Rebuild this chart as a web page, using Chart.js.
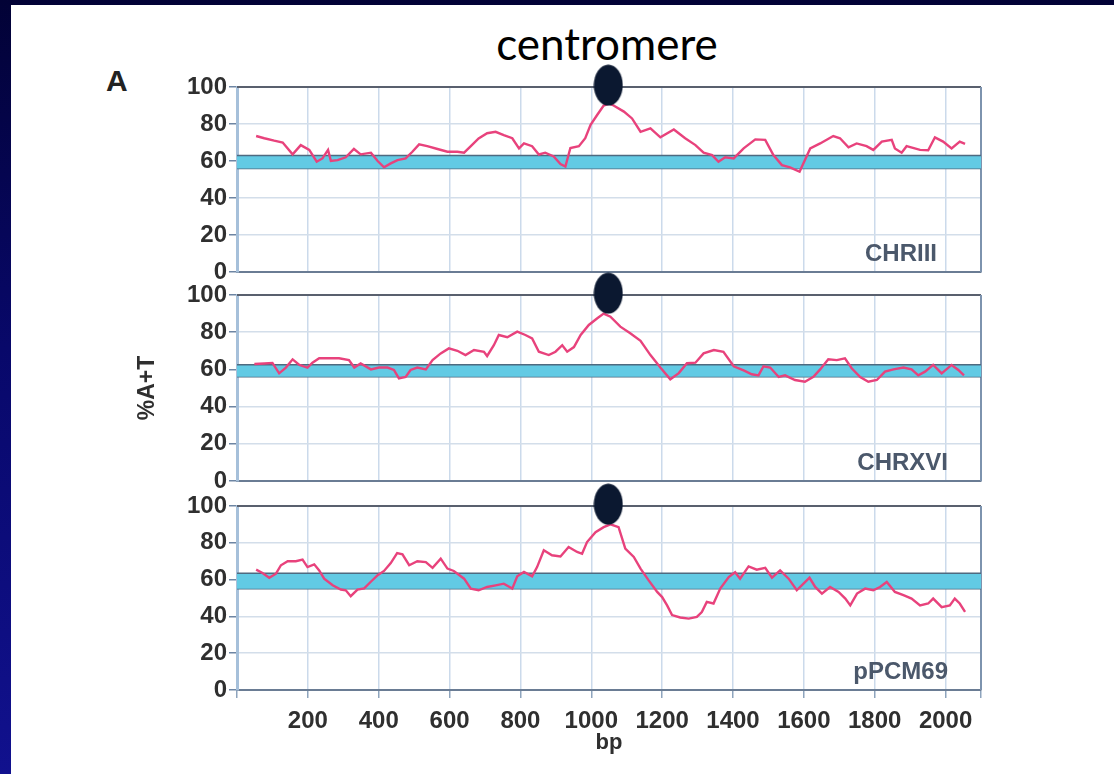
<!DOCTYPE html>
<html>
<head>
<meta charset="utf-8">
<script src="https://cdn.jsdelivr.net/npm/chart.js@4"></script>
<style>
html, body { margin: 0; padding: 0; width: 1114px; height: 774px; overflow: hidden;
  background: linear-gradient(180deg, #020236 0%, #08086a 45%, #11118e 100%); }
#slide { position: absolute; left: 11px; top: 5px; width: 1103px; height: 769px; background: #fff; }
.panel { position: absolute; left: 100px; width: 920px; }
#title { position: absolute; left: 407px; width: 400px; top: 21px; text-align: center;
  font: 44px Lato, "Open Sans", sans-serif; line-height: 44px; color: #000; }
#letter { position: absolute; left: 106px; top: 64px; font: bold 30px "Liberation Sans", Arial, sans-serif; color: #222; }
</style>
</head>
<body>
<div id="slide"></div>
<div id="title">centromere</div>
<div id="letter">A</div>
<canvas id="p1" class="panel" style="top:50px;height:240px" width="920" height="240"></canvas>
<canvas id="p2" class="panel" style="top:265px;height:235px" width="920" height="235"></canvas>
<canvas id="p3" class="panel" style="top:475px;height:295px" width="920" height="295"></canvas>
<script>
// x axis labels (bp) and y ticks
const xTickLabels = [200, 400, 600, 800, 1000, 1200, 1400, 1600, 1800, 2000];
const xMax = 2100;
const yTickStep = 20;
const centromereBp = 1048;
const centromereY = 101;

// CHRIII
const chr3Bp = [54, 77, 105, 129, 157, 180, 204, 225, 241, 257,
  265, 284, 307, 330, 349, 378, 397, 415, 434, 453,
  476, 495, 514, 537, 566, 594, 622, 641, 660, 682,
  706, 730, 753, 777, 796, 810, 833, 852, 870, 894,
  913, 927, 941, 965, 983, 998, 1017, 1035, 1050, 1063,
  1092, 1115, 1139, 1167, 1195, 1233, 1265, 1294, 1317, 1341,
  1359, 1378, 1402, 1430, 1463, 1491, 1514, 1538, 1561, 1588,
  1603, 1618, 1646, 1683, 1702, 1726, 1749, 1777, 1796, 1820,
  1848, 1857, 1876, 1890, 1928, 1951, 1970, 1993, 2017, 2040, 2055];
const chr3AT = [73.5, 72.3, 71, 70, 63.6, 68.6, 66, 59.6, 61.4, 66,
  60, 60.5, 62, 66.5, 63.6, 64.5, 60, 56.6, 58.7, 60.5,
  61.4, 65, 69, 68, 66.5, 65, 65, 64.5, 68, 72.2,
  75, 75.8, 74, 72.3, 66.8, 69.5, 68, 63.5, 64.5, 62.5,
  58.4, 57, 67, 68, 72.3, 79.5, 85, 90, 91, 90,
  86.7, 83, 75.8, 77.7, 72.8, 77, 72.3, 68.6, 64.5, 63.2,
  59.6, 62, 61.4, 66.8, 71.7, 71.4, 63.2, 57.8, 56.6, 54.2,
  60.5, 66.8, 69.5, 73.5, 72.3, 67.4, 69.5, 68, 66, 70.5,
  71.4, 66.8, 64.5, 68, 66, 65.8, 72.8, 70.5, 66.8, 70.5, 69.3];

// CHRXVI
const chr16Bp = [49, 77, 100, 119, 138, 157, 176, 199, 213, 232,
  260, 288, 316, 331, 349, 378, 401, 425, 443, 457,
  476, 490, 509, 533, 552, 575, 598, 622, 645, 669,
  697, 706, 725, 739, 763, 791, 814, 833, 852, 880,
  899, 918, 932, 951, 970, 993, 1017, 1035, 1054, 1082,
  1110, 1139, 1167, 1195, 1223, 1247, 1270, 1294, 1317, 1346,
  1373, 1402, 1430, 1453, 1472, 1486, 1505, 1529, 1547, 1575,
  1603, 1627, 1646, 1669, 1693, 1716, 1735, 1759, 1782, 1806,
  1829, 1853, 1881, 1904, 1923, 1942, 1965, 1989, 2017, 2036, 2052];
const chr16AT = [62.9, 63.2, 63.5, 57.9, 61, 65.4, 62.4, 61, 63.6, 66,
  66, 66, 65, 61, 63.2, 60, 61, 61, 59.7, 55.2,
  56, 59.7, 61, 60, 65, 68.6, 71.3, 70, 67.7, 70.4,
  69.5, 67.2, 73, 78.5, 77.3, 80.3, 78.5, 76.7, 69.5, 67.7,
  69.5, 73, 69.5, 72, 78.5, 83.9, 87.5, 90, 88.3, 83,
  79.4, 75.4, 67.7, 61, 54.7, 58, 63.3, 63.6, 68.6, 70.4,
  69.5, 61.7, 59.5, 57.4, 56.8, 61.7, 61, 55.9, 56.8, 54.3,
  53.4, 56, 60, 65.4, 65, 66, 60.6, 55.9, 53.4, 54.3,
  58.8, 60, 61, 60, 56.8, 58.8, 62.4, 57.9, 62.4, 59.7, 56.8];

// pPCM69
const ppcmBp = [54, 72, 91, 110, 124, 143, 166, 185, 199, 218,
  232, 246, 270, 293, 307, 321, 340, 359, 377, 397,
  415, 434, 452, 467, 486, 509, 533, 552, 575, 594,
  612, 641, 660, 682, 706, 730, 753, 777, 791, 810,
  833, 847, 866, 889, 913, 936, 960, 974, 988, 1012,
  1035, 1054, 1077, 1096, 1120, 1139, 1162, 1186, 1200, 1214,
  1228, 1251, 1275, 1298, 1312, 1326, 1345, 1364, 1388, 1406,
  1420, 1444, 1467, 1491, 1510, 1533, 1557, 1580, 1599, 1616,
  1632, 1651, 1674, 1698, 1717, 1731, 1750, 1773, 1796, 1815,
  1834, 1857, 1881, 1904, 1928, 1951, 1965, 1989, 2012, 2026, 2040, 2055];
const ppcmAT = [65.4, 63.6, 61, 63.2, 67.8, 70, 70, 70.9, 66.8, 68.3,
  65, 60.5, 56.9, 54.6, 54.2, 51, 54.6, 55.2, 58.7, 62.4,
  64.7, 69, 74.4, 73.7, 67.8, 70, 69.5, 66.4, 71.4, 66,
  64.7, 60.5, 55.1, 54.2, 56, 56.9, 57.8, 55.1, 61.8, 64.2,
  61.8, 66.8, 75.9, 73.2, 72.6, 77.7, 75, 74, 80.4, 85.8,
  88.5, 90, 88.5, 76.8, 72.3, 66, 59.6, 53.3, 50.5, 46,
  40.7, 39.4, 38.8, 39.7, 42.4, 47.9, 47, 55.1, 61.4, 64,
  60.5, 67.2, 65.4, 66.4, 61, 65, 60.5, 54.2, 57.8, 61,
  56, 52.4, 56, 53.3, 49.7, 46, 52.4, 55.1, 54.2, 56,
  58.7, 53.3, 51.5, 49.7, 46, 47, 49.7, 45, 46, 49.7, 47, 42.4];

// genome average band (low, high) per panel
const bandChr3 = [56, 63];
const bandChr16 = [56, 62.5];
const bandPpcm = [55, 63.5];

const tickFont = { family: '"Liberation Sans", Arial, sans-serif', size: 24, weight: 'bold' };

// ellipse marker for the centromere
function ellipseMarker() {
    const c = document.createElement('canvas');
    c.width = 30; c.height = 42;
    const g = c.getContext('2d');
    g.fillStyle = '#0b1830';
    g.beginPath();
    g.ellipse(15, 21, 14.5, 20.5, 0, 0, Math.PI * 2);
    g.fill();
    return c;
}
const marker = ellipseMarker();

// top + right frame lines, and panel name
const framePlugin = {
    id: 'frame',
    beforeDatasetsDraw(chart) {
        const a = chart.chartArea, g = chart.ctx;
        g.save();
        g.lineWidth = 2;
        g.strokeStyle = '#59606e';
        g.beginPath(); g.moveTo(a.left, a.top); g.lineTo(a.right, a.top); g.stroke();
        g.strokeStyle = '#7d93ae';
        g.beginPath(); g.moveTo(a.right, a.top); g.lineTo(a.right, a.bottom); g.stroke();
        g.restore();
    },
    afterDraw(chart, args, opts) {
        const a = chart.chartArea, g = chart.ctx;
        g.save();
        g.font = 'bold 24px "Liberation Sans", Arial, sans-serif';
        g.fillStyle = '#4b586b';
        g.textAlign = 'right';
        g.textBaseline = 'alphabetic';
        g.fillText(opts.name, a.right - opts.dx, a.bottom - 11);
        g.restore();
    }
};

function makePanel(id, name, bp, at, band, cfg) {
    const points = bp.map((x, i) => ({ x: x, y: at[i] }));
    return new Chart(document.getElementById(id), {
        type: 'line',
        data: {
            datasets: [
                {
                    type: 'scatter',
                    data: [{ x: centromereBp, y: centromereY }],
                    pointStyle: marker,
                    pointRadius: 15,
                    clip: false,
                    order: 0
                },
                {
                    data: points,
                    borderColor: '#e8427c',
                    borderWidth: 2.4,
                    pointRadius: 0,
                    tension: 0,
                    order: 1
                },
                {
                    data: [{ x: 0, y: band[1] }, { x: xMax, y: band[1] }],
                    borderColor: '#4e6a80',
                    borderWidth: 1.5,
                    backgroundColor: '#62cae4',
                    pointRadius: 0,
                    fill: '+1',
                    order: 2
                },
                {
                    data: [{ x: 0, y: band[0] }, { x: xMax, y: band[0] }],
                    borderColor: '#4e6a80',
                    borderWidth: 1.5,
                    pointRadius: 0,
                    fill: false,
                    order: 3
                }
            ]
        },
        plugins: [framePlugin],
        options: {
            responsive: false,
            animation: false,
            events: [],
            layout: { padding: { top: cfg.padTop, right: 39, left: 0, bottom: 0 } },
            plugins: {
                legend: { display: false },
                tooltip: { enabled: false },
                frame: { name: name, dx: cfg.labelDx }
            },
            scales: {
                x: {
                    type: 'linear',
                    min: 0,
                    max: xMax,
                    afterFit: s => { s.height = cfg.xHeight; },
                    afterBuildTicks: s => {
                        s.ticks = [0].concat(xTickLabels, [xMax]).map(v => ({ value: v }));
                    },
                    ticks: {
                        display: cfg.showX,
                        autoSkip: false,
                        maxRotation: 0,
                        padding: 9,
                        color: '#2f2f2f',
                        font: tickFont,
                        callback: v => xTickLabels.includes(v) ? String(v) : ''
                    },
                    grid: { color: '#cbdaeb', lineWidth: 1.5, drawTicks: cfg.showX, tickLength: 8, tickColor: '#8ea4bd' },
                    border: { color: '#6a7c94', width: 2 },
                    title: {
                        display: cfg.showX,
                        text: 'bp',
                        color: '#2f2f2f',
                        font: { family: '"Liberation Sans", Arial, sans-serif', size: 22, weight: 'bold' },
                        padding: { top: 0, bottom: 14 }
                    }
                },
                y: {
                    min: 0,
                    max: 100,
                    afterFit: s => { s.width = 137; },
                    ticks: { stepSize: yTickStep, padding: 2, color: '#2f2f2f', font: tickFont },
                    grid: { color: '#d3deea', lineWidth: 1.5, tickLength: 8, tickColor: '#6d85a3' },
                    border: { color: '#a6c0da', width: 3 },
                    title: {
                        display: cfg.showY,
                        text: '%A+T',
                        color: '#2f2f2f',
                        font: { family: '"Liberation Sans", Arial, sans-serif', size: 23, weight: 'bold' },
                        padding: { top: 34, bottom: 0 }
                    }
                }
            }
        }
    });
}

makePanel('p1', 'CHRIII', chr3Bp, chr3AT, bandChr3, { padTop: 37, xHeight: 18, showX: false, showY: false, labelDx: 44 });
makePanel('p2', 'CHRXVI', chr16Bp, chr16AT, bandChr16, { padTop: 30, xHeight: 19, showX: false, showY: true, labelDx: 33 });
makePanel('p3', 'pPCM69', ppcmBp, ppcmAT, bandPpcm, { padTop: 31, xHeight: 80, showX: true, showY: false, labelDx: 33 });
</script>
</body>
</html>
